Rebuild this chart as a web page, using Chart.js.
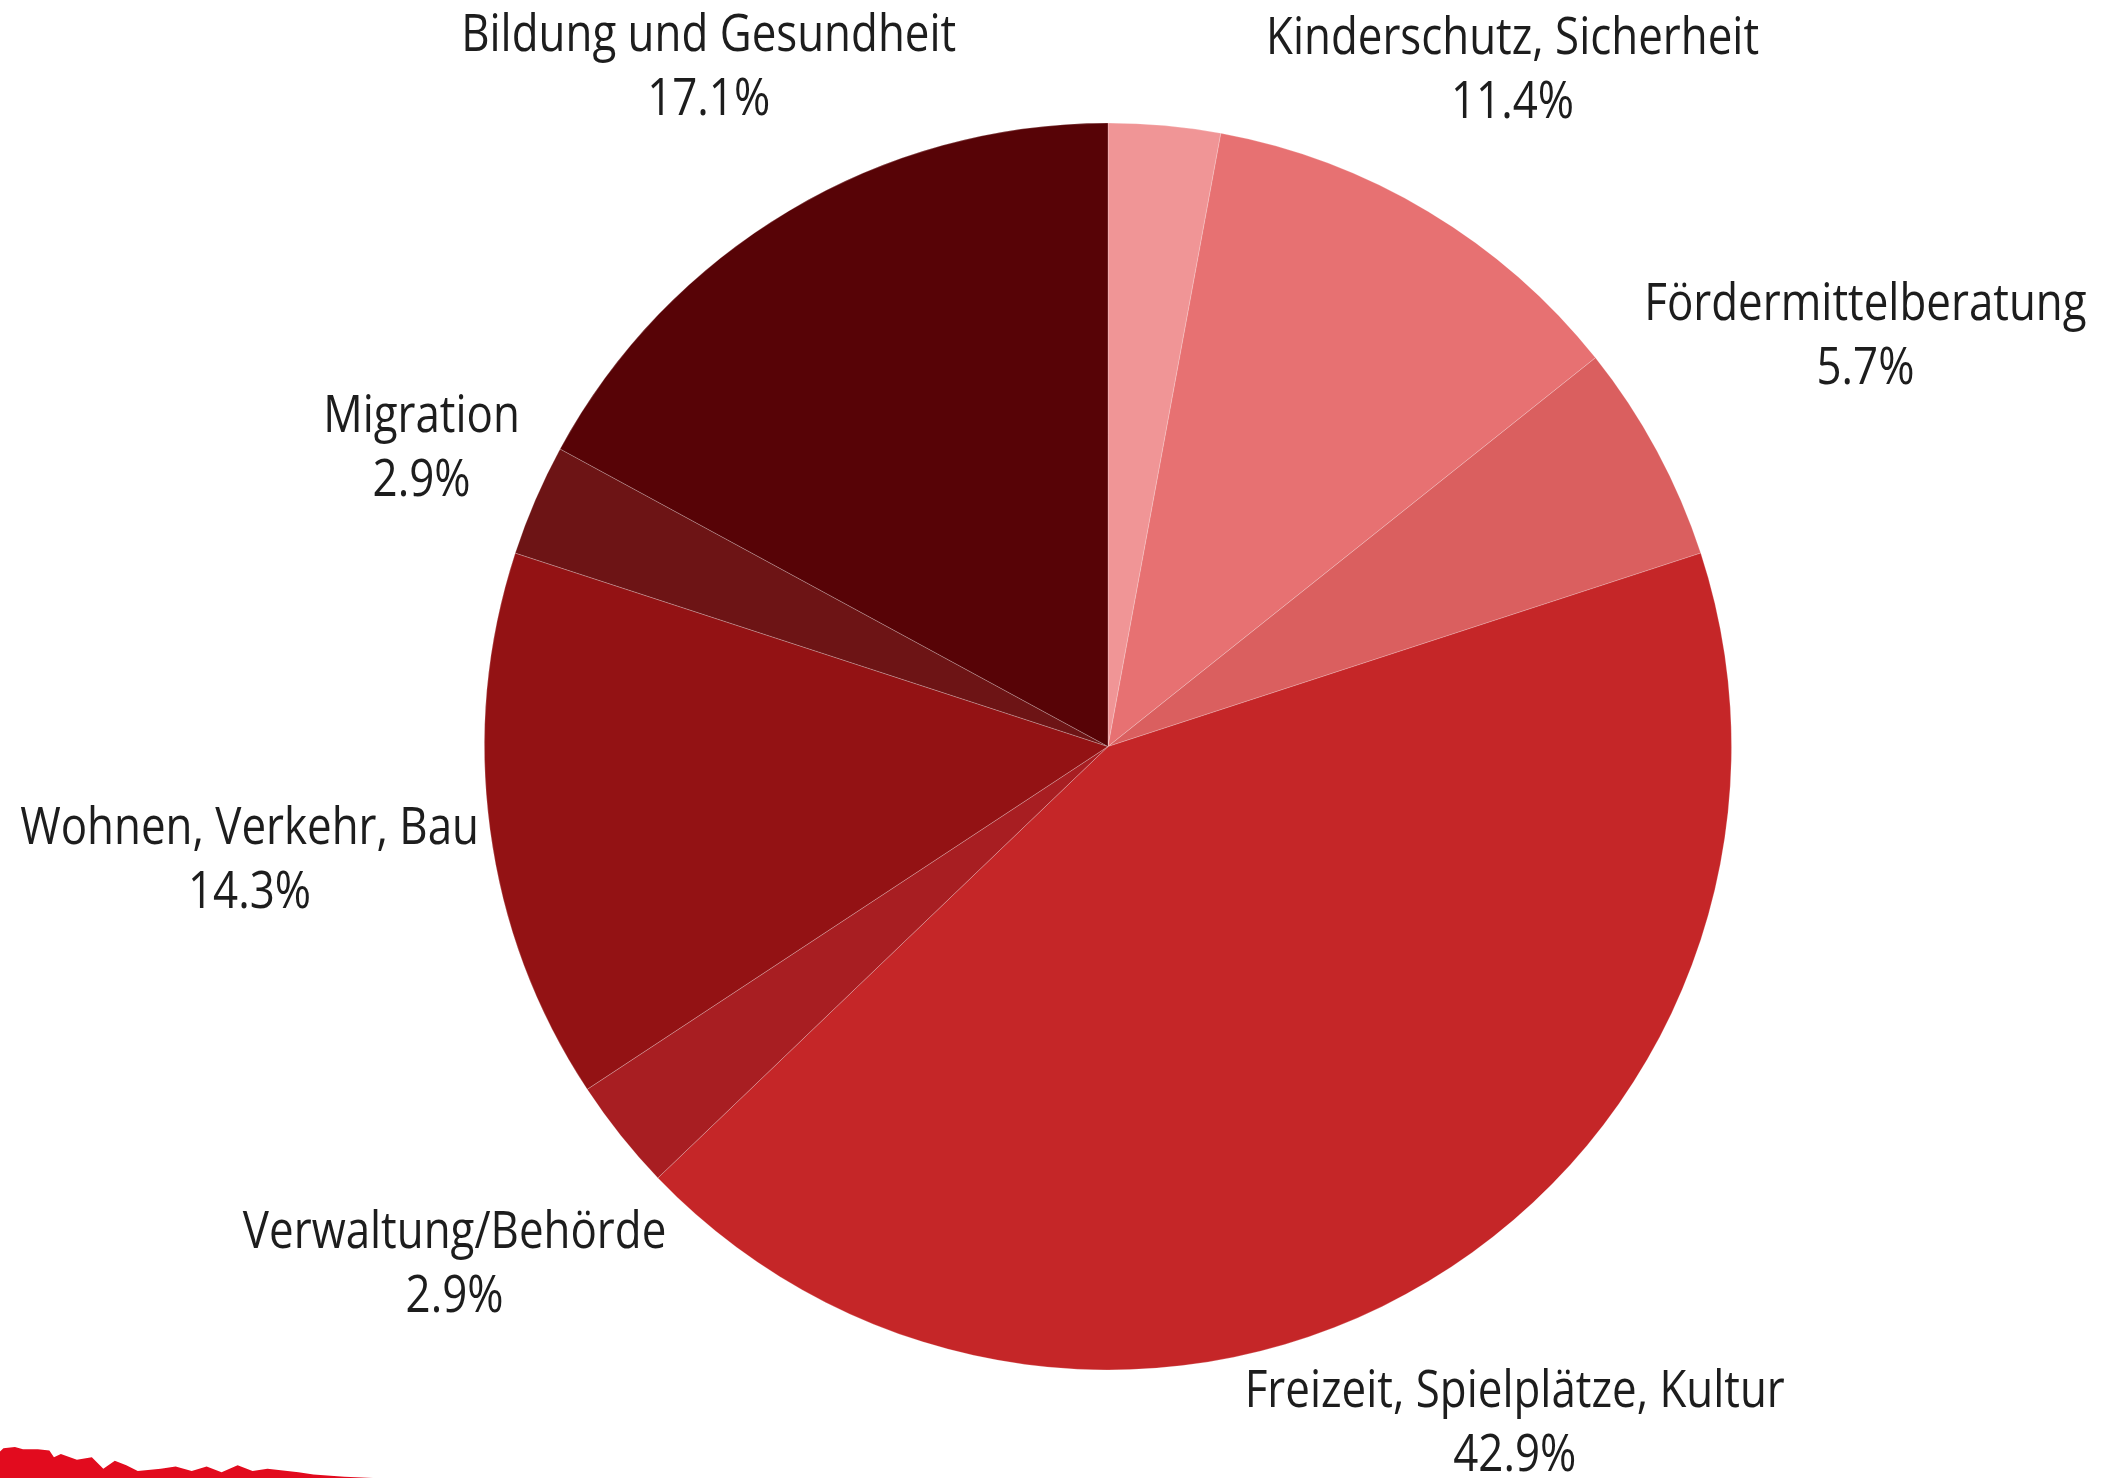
<!DOCTYPE html>
<html>
<head>
<meta charset="utf-8">
<script src="https://cdn.jsdelivr.net/npm/chart.js@4.4.0/dist/chart.umd.min.js"></script>
<style>
  html, body { margin: 0; padding: 0; background: #ffffff; }
  #wrap { width: 2101px; height: 1478px; position: relative; }
</style>
</head>
<body>
<div id="wrap"><canvas id="c" width="2101" height="1478"></canvas></div>
<script>
// ---- data ----
const categories = [
  "Sonstiges",
  "Kinderschutz, Sicherheit",
  "Fördermittelberatung",
  "Freizeit, Spielplätze, Kultur",
  "Verwaltung/Behörde",
  "Wohnen, Verkehr, Bau",
  "Migration",
  "Bildung und Gesundheit"
];
const shares = [2.9, 11.4, 5.7, 42.9, 2.9, 14.3, 2.9, 17.1];
const showLabel = [false, true, true, true, true, true, true, true];

// ---- styles ----
const sliceColors = ["#F09596", "#E77172", "#DA5F5F", "#C52628", "#A81E22", "#931214", "#6D1415", "#570306"];
const labelNudge = [[0,0],[-13,19],[1,-4],[-17,-32],[2,-6],[7,-4],[3,-3],[16,18]];
const FONT_FAMILY = '"Open Sans", "Noto Sans", sans-serif';
const FONT_SIZE = 51;
const REF_TEXT = "Bildung und Gesundheit";
const REF_WIDTH = 495;

const labelPlugin = {
  id: 'outerLabels',
  afterDatasetsDraw(chart) {
    const ctx = chart.ctx;
    const meta = chart.getDatasetMeta(0);
    ctx.save();
    ctx.font = FONT_SIZE + 'px ' + FONT_FAMILY;
    const sx = REF_WIDTH / ctx.measureText(REF_TEXT).width;
    ctx.fillStyle = '#1d1d1d';
    ctx.textAlign = 'center';
    ctx.textBaseline = 'alphabetic';
    meta.data.forEach((arc, i) => {
      if (!showLabel[i]) return;
      const p = arc.getProps(['x','y','startAngle','endAngle','outerRadius'], true);
      const mid = (p.startAngle + p.endAngle) / 2;
      const ux = Math.cos(mid), uy = Math.sin(mid);
      const l1 = categories[i];
      const l2 = shares[i].toFixed(1) + '%';
      const hw = Math.max(ctx.measureText(l1).width, ctx.measureText(l2).width) * sx / 2;
      const hh = 55;
      const dist = p.outerRadius + 15 + Math.abs(ux) * hw + Math.abs(uy) * hh;
      const cx = p.x + ux * dist + labelNudge[i][0];
      const cy = p.y + uy * dist + labelNudge[i][1];
      [[l1, cy - 15], [l2, cy + 49]].forEach(([t, by]) => {
        ctx.save();
        ctx.translate(cx, by);
        ctx.scale(sx, 1);
        ctx.fillText(t, 0, 0);
        ctx.restore();
      });
    });
    ctx.restore();
  }
};

// decorative brush stroke at bottom-left corner
const brushPlugin = {
  id: 'brush',
  afterDraw(chart) {
    const ctx = chart.ctx;
    const base = [[0,1455],[3,1452],[13,1451],[20,1453],[33,1453],[43,1454],[47,1460],[53,1457],[67,1462],[80,1460],[90,1470],[100,1463],[110,1467],[120,1472],[140,1470],[153,1468],[167,1472],[180,1468],[193,1473],[207,1467],[220,1472],[233,1470],[260,1473],[273,1475],[300,1477],[325,1478],[0,1478]];
    const k = 1.148, H = 1478;
    ctx.save();
    ctx.fillStyle = '#E20B1E';
    ctx.beginPath();
    base.forEach(([x,y], j) => {
      const px = x * k, py = H - (H - y) * k;
      j ? ctx.lineTo(px, py) : ctx.moveTo(px, py);
    });
    ctx.closePath();
    ctx.fill();
    ctx.restore();
  }
};

new Chart(document.getElementById('c'), {
  type: 'pie',
  data: {
    labels: categories,
    datasets: [{
      data: shares,
      backgroundColor: sliceColors,
      borderColor: 'rgba(255,255,255,0.22)',
      borderWidth: 1
    }]
  },
  options: {
    responsive: false,
    animation: false,
    layout: { padding: { left: 484, right: 369, top: 122, bottom: 107 } },
    plugins: {
      legend: { display: false },
      tooltip: { enabled: false }
    }
  },
  plugins: [labelPlugin, brushPlugin]
});
</script>
</body>
</html>
